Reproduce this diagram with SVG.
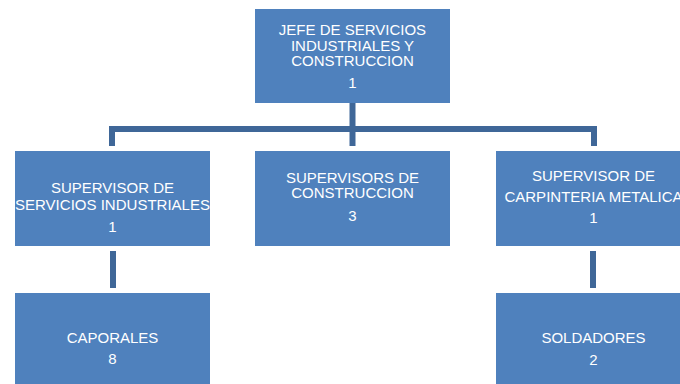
<svg xmlns="http://www.w3.org/2000/svg" width="680" height="384" viewBox="0 0 680 384">
<style>
.box{fill:#4f81bd;}
.t{font-family:"Liberation Sans",Arial,sans-serif;font-size:15px;fill:#ffffff;text-anchor:middle;}
.c{fill:none;stroke:#3f6798;stroke-width:6;stroke-linejoin:miter;}
</style>
<rect width="680" height="384" fill="#ffffff"/>
<g id="connectors">
<path class="c" d="M352.5,103 V146"/>
<path class="c" d="M112,146 V129 H594 V146"/>
<path class="c" d="M113,251 V288"/>
<path class="c" d="M593,251 V288"/>
</g>
<g id="jefe">
<rect class="box" x="255" y="9" width="195" height="94"/>
<text class="t" x="352.5" y="35">JEFE DE SERVICIOS</text>
<text class="t" x="352.5" y="51">INDUSTRIALES Y</text>
<text class="t" x="352.5" y="66">CONSTRUCCION</text>
<text class="t" x="352.5" y="88">1</text>
</g>
<g id="sup-servicios">
<rect class="box" x="15" y="151" width="195" height="95"/>
<text class="t" x="112.5" y="193">SUPERVISOR DE</text>
<text class="t" x="112.5" y="210" textLength="195" lengthAdjust="spacingAndGlyphs">SERVICIOS INDUSTRIALES</text>
<text class="t" x="112.5" y="232">1</text>
</g>
<g id="sup-construccion">
<rect class="box" x="255" y="151" width="195" height="95"/>
<text class="t" x="352.5" y="183">SUPERVISORS DE</text>
<text class="t" x="352.5" y="198">CONSTRUCCION</text>
<text class="t" x="352.5" y="221">3</text>
</g>
<g id="sup-carpinteria">
<rect class="box" x="496" y="151" width="195" height="95"/>
<text class="t" x="593.5" y="181">SUPERVISOR DE</text>
<text class="t" x="593.5" y="202">CARPINTERIA METALICA</text>
<text class="t" x="593.5" y="223">1</text>
</g>
<g id="caporales">
<rect class="box" x="15" y="293" width="195" height="91"/>
<text class="t" x="112.5" y="343">CAPORALES</text>
<text class="t" x="112.5" y="364">8</text>
</g>
<g id="soldadores">
<rect class="box" x="496" y="293" width="195" height="91"/>
<text class="t" x="593.5" y="343">SOLDADORES</text>
<text class="t" x="593.5" y="365">2</text>
</g>
</svg>
